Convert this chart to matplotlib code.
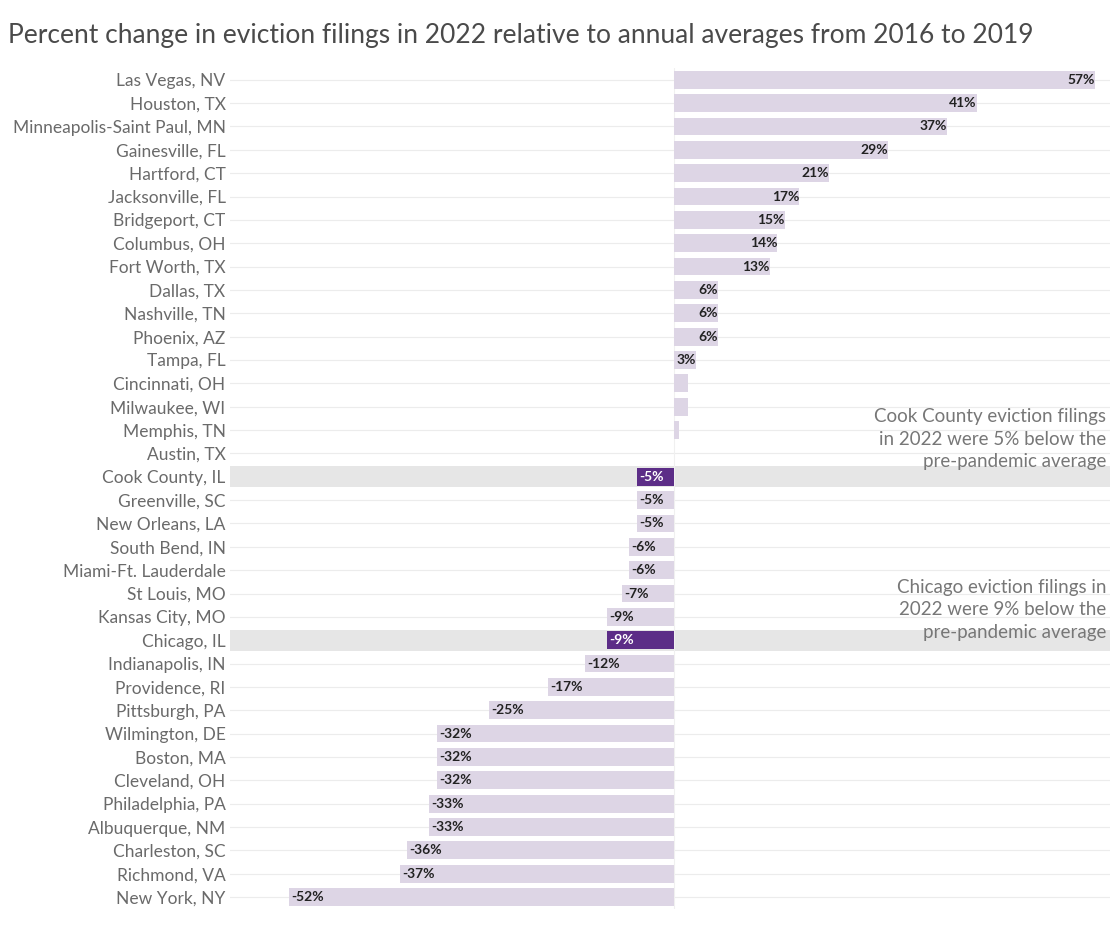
import numpy as np
import matplotlib
matplotlib.use("Agg")
import matplotlib.pyplot as plt

plt.rcParams['font.family'] = ['Lato', 'DejaVu Sans']

cities = ["Las Vegas, NV", "Houston, TX", "Minneapolis-Saint Paul, MN", "Gainesville, FL",
          "Hartford, CT", "Jacksonville, FL", "Bridgeport, CT", "Columbus, OH", "Fort Worth, TX",
          "Dallas, TX", "Nashville, TN", "Phoenix, AZ", "Tampa, FL", "Cincinnati, OH",
          "Milwaukee, WI", "Memphis, TN", "Austin, TX", "Cook County, IL", "Greenville, SC",
          "New Orleans, LA", "South Bend, IN", "Miami-Ft. Lauderdale", "St Louis, MO",
          "Kansas City, MO", "Chicago, IL", "Indianapolis, IN", "Providence, RI",
          "Pittsburgh, PA", "Wilmington, DE", "Boston, MA", "Cleveland, OH",
          "Philadelphia, PA", "Albuquerque, NM", "Charleston, SC", "Richmond, VA", "New York, NY"]
pct = [57, 41, 37, 29, 21, 17, 15, 14, 13, 6, 6, 6, 3, 2, 2, 0.7, 0.1, -5, -5, -5, -6, -6, -7,
       -9, -9, -12, -17, -25, -32, -32, -32, -33, -33, -36, -37, -52]
labels = ["57%", "41%", "37%", "29%", "21%", "17%", "15%", "14%", "13%", "6%", "6%", "6%", "3%",
          "", "", "", "", "-5%", "-5%", "-5%", "-6%", "-6%", "-7%", "-9%", "-9%", "-12%",
          "-17%", "-25%", "-32%", "-32%", "-32%", "-33%", "-33%", "-36%", "-37%", "-52%"]
highlight = ["Cook County, IL", "Chicago, IL"]

fig = plt.figure(figsize=(11.1, 9.33), dpi=100)
ax = fig.add_axes([0.207, 0.026, 0.793, 0.901])

y = np.arange(len(cities))
colors = ["#5c2d87" if c in highlight else "#ddd5e5" for c in cities]

for i, c in enumerate(cities):
    ax.axhline(i, color="#ececec", lw=0.8, zorder=0)
    if c in highlight:
        ax.axhspan(i - 0.45, i + 0.45, color="#e6e6e6", zorder=0.5, lw=0)

ax.axvline(0, color="#f0f0f0", lw=0.8, zorder=1)
ax.barh(y, pct, height=0.76, color=colors, zorder=2)

for i, (v, lab) in enumerate(zip(pct, labels)):
    if not lab:
        continue
    tc = "white" if cities[i] in highlight else "#222222"
    if v > 0:
        ax.text(v, i, lab, ha="right", va="center", fontsize=10,
                fontweight="bold", color=tc, zorder=3)
    else:
        ax.text(v + 0.3, i, lab, ha="left", va="center", fontsize=10,
                fontweight="bold", color=tc, zorder=3)

ax.set_xlim(-60, 59)
ax.set_ylim(len(cities) - 0.5, -0.5)
ax.set_yticks(y)
ax.set_yticklabels(cities, fontsize=12.5, color="#6a6a6a")
ax.tick_params(axis="y", length=0, pad=3)
ax.set_xticks([])
for s in ax.spines.values():
    s.set_visible(False)

ax.text(58.5, 15.4, "Cook County eviction filings\nin 2022 were 5% below the\npre-pandemic average",
        ha="right", va="center", fontsize=13.5, color="#777777", linespacing=1.4, zorder=4)
ax.text(58.5, 22.7, "Chicago eviction filings in\n2022 were 9% below the\npre-pandemic average",
        ha="right", va="center", fontsize=13.5, color="#777777", linespacing=1.4, zorder=4)

fig.text(0.007, 0.962, "Percent change in eviction filings in 2022 relative to annual averages from 2016 to 2019",
         fontsize=19, color="#4a4a4a", ha="left", va="center")

fig.savefig("out.png", dpi=100, facecolor="white")
